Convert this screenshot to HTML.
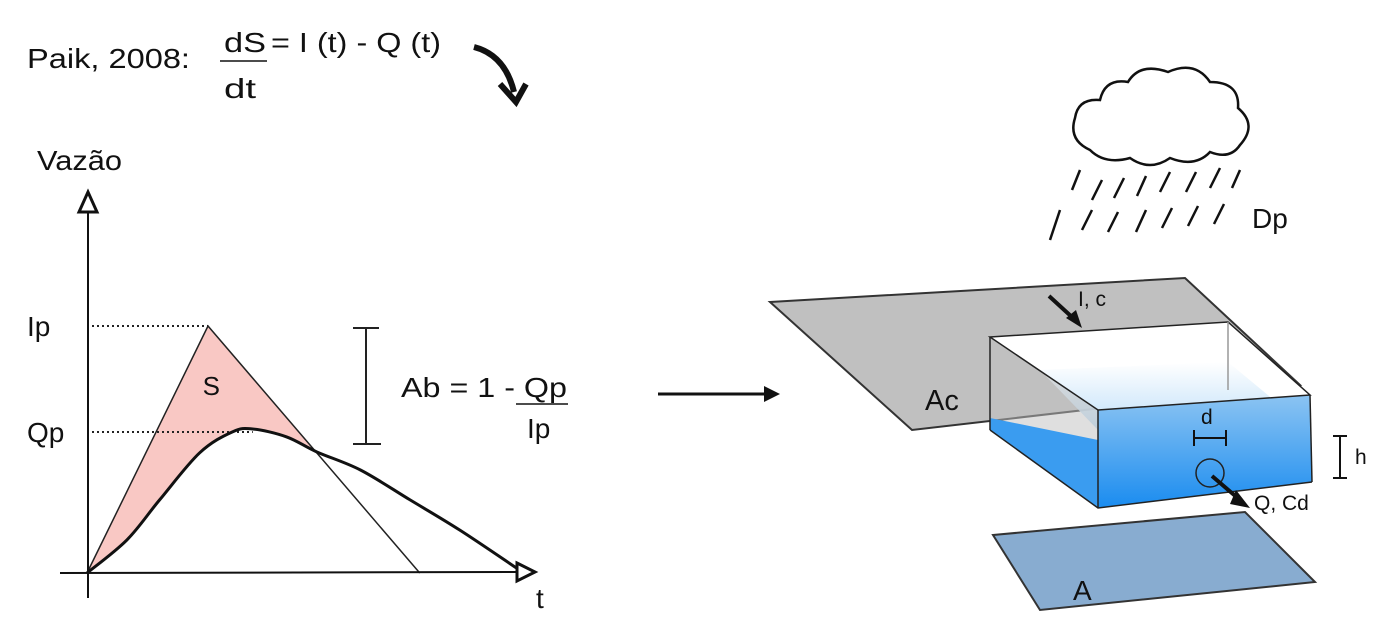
<!DOCTYPE html>
<html><head><meta charset="utf-8"><style>
body{margin:0;background:#fff;width:1394px;height:637px;overflow:hidden;font-family:"Liberation Sans",sans-serif}
svg text{font-family:"Liberation Sans",sans-serif;fill:#111}
</style></head><body>
<svg width="1394" height="637" viewBox="0 0 1394 637">
<defs>
<linearGradient id="wf" x1="0" y1="0" x2="0" y2="1"><stop offset="0" stop-color="#8cc4f2"/><stop offset="1" stop-color="#1a8cf0"/></linearGradient>
<linearGradient id="ws" x1="0" y1="0" x2="0" y2="1"><stop offset="0" stop-color="#ffffff"/><stop offset="1" stop-color="#b8dcf8"/></linearGradient>
</defs>
<g>
<text x="27" y="68" font-size="28" textLength="163" lengthAdjust="spacingAndGlyphs">Paik, 2008:</text>
<text x="224" y="52" font-size="28" textLength="42" lengthAdjust="spacingAndGlyphs">dS</text>
<line x1="220" y1="61" x2="267" y2="61" stroke="#111" stroke-width="1.5"/>
<text x="224" y="98" font-size="28" textLength="32" lengthAdjust="spacingAndGlyphs">dt</text>
<text x="271" y="52" font-size="28" textLength="170" lengthAdjust="spacingAndGlyphs">= I (t) - Q (t)</text>
</g>
<path d="M474 47 Q505 55 514 92" fill="none" stroke="#111" stroke-width="6"/>
<path d="M500 84 L516 102 L526 84" fill="none" stroke="#111" stroke-width="6"/>
<g id="chart"></g>
<text x="37" y="170" font-size="28" textLength="85" lengthAdjust="spacingAndGlyphs">Vazão</text>
<text x="536" y="608" font-size="28">t</text>
<g stroke="#222" stroke-width="2">
<line x1="366" y1="328" x2="366" y2="444"/><line x1="353" y1="328" x2="379" y2="328"/><line x1="353" y1="444" x2="381" y2="444"/></g>
<g>
<text x="401" y="397" font-size="28" textLength="166" lengthAdjust="spacingAndGlyphs">Ab = 1 - Qp</text>
<line x1="516" y1="404" x2="568" y2="404" stroke="#111" stroke-width="1.5"/>
<text x="527" y="438" font-size="28">Ip</text></g>
<g><line x1="658" y1="394" x2="766" y2="394" stroke="#111" stroke-width="3"/><path d="M764 386 L780 394 L764 402Z" fill="#111"/></g>
<g fill="none" stroke="#111" stroke-width="2.5">
<path d="M1090 150 Q1068 140 1075 118 Q1078 98 1100 100 Q1105 78 1128 82 Q1140 62 1168 72 Q1195 60 1210 82 Q1240 82 1238 108 Q1258 125 1240 145 Q1230 160 1210 152 Q1195 168 1170 158 Q1150 172 1130 158 Q1105 165 1090 150Z"/>
<path d="M1080 170 L1072 190 M1102 180 L1092 200 M1124 178 L1114 198 M1146 176 L1137 196 M1170 172 L1160 192 M1196 172 L1186 192 M1220 168 L1210 188 M1240 170 L1232 188 M1060 210 L1050 240 M1092 210 L1082 230 M1118 212 L1108 232 M1146 210 L1136 232 M1172 208 L1162 228 M1198 206 L1188 226 M1224 204 L1214 224"/></g>
<text x="1252" y="228" font-size="28">Dp</text>
<polygon points="770,302 1185,278 1300,385 912,430" fill="#c0c0c0" stroke="#333" stroke-width="2"/>
<text x="925" y="410" font-size="29">Ac</text>
<g>
<polygon points="990,337 1228,322 1310,395 1098,410" fill="#fff"/>
<polygon points="1040,370 1228,362 1310,430 1098,430" fill="url(#ws)" opacity="0.9"/>
<polygon points="990,337 1098,410 1098,508 990,430" fill="#c0c0c0" opacity="0.5"/>
<polygon points="990,418 1098,440 1098,508 990,430" fill="#3a9cf0"/>
<polygon points="1098,410 1310,395 1312,482 1098,508" fill="url(#wf)"/>
<g fill="none" stroke="#222" stroke-width="1.5">
<polygon points="990,337 1228,322 1310,395 1098,410"/>
<line x1="990" y1="337" x2="990" y2="430"/><line x1="1098" y1="410" x2="1098" y2="508"/><line x1="1310" y1="395" x2="1312" y2="482"/>
<polyline points="990,430 1098,508 1312,482"/><line x1="1228" y1="322" x2="1228" y2="390" stroke="#999"/>
<circle cx="1210" cy="473" r="14"/></g>
<line x1="1193" y1="438" x2="1227" y2="438" stroke="#111" stroke-width="2"/><line x1="1194" y1="430" x2="1194" y2="446" stroke="#111" stroke-width="2"/><line x1="1226" y1="430" x2="1226" y2="446" stroke="#111" stroke-width="2"/>
<text x="1201" y="424" font-size="21">d</text>
<line x1="1212" y1="476" x2="1240" y2="500" stroke="#111" stroke-width="4"/><path d="M1236 490 L1250 508 L1230 504Z" fill="#111"/>
<text x="1254" y="510" font-size="21">Q, Cd</text>
<line x1="1049" y1="296" x2="1073" y2="318" stroke="#111" stroke-width="4"/><path d="M1066 318 L1082 328 L1076 310Z" fill="#111"/>
<text x="1078" y="306" font-size="21">I, c</text>
<g stroke="#111" stroke-width="2"><line x1="1340" y1="436" x2="1340" y2="478"/><line x1="1333" y1="436" x2="1347" y2="436"/><line x1="1333" y1="478" x2="1347" y2="478"/></g>
<text x="1355" y="464" font-size="21">h</text>
</g>
<polygon points="993,535 1245,512 1315,582 1040,610" fill="#88acd0" stroke="#333" stroke-width="2"/>
<text x="1073" y="600" font-size="28">A</text>
</svg>
<script>
const inflowT=[0,1,2.75];
const inflowQ=[0,1,0];
const outflowT=[0,0.33,0.6,0.93,1.2,1.37,1.65,1.9,2.26,2.67,3.08,3.55];
const outflowQ=[0,0.134,0.296,0.486,0.571,0.583,0.551,0.490,0.417,0.296,0.174,0.02];
const yLabels=["Ip","Qp"];
const yLabelVals=[1,0.571];
const X=t=>87+t*121;
const Y=q=>573-q*247;
const NS="http://www.w3.org/2000/svg";
const g=document.getElementById('chart');
function mk(tag,attrs){const e=document.createElementNS(NS,tag);for(const k in attrs)e.setAttribute(k,attrs[k]);g.appendChild(e);return e;}
function smooth(p){let d='M'+p[0][0]+' '+p[0][1];for(let i=0;i<p.length-1;i++){const p0=p[i-1]||p[i],p1=p[i],p2=p[i+1],p3=p[i+2]||p2;
d+=' C'+(p1[0]+(p2[0]-p0[0])/6)+' '+(p1[1]+(p2[1]-p0[1])/6)+' '+(p2[0]-(p3[0]-p1[0])/6)+' '+(p2[1]-(p3[1]-p1[1])/6)+' '+p2[0]+' '+p2[1];}return d;}
const opts=outflowT.map((t,i)=>[X(t),Y(outflowQ[i])]);
let ix=1.9;
let sp=opts.filter((p,i)=>outflowT[i]<=ix);
const sd=smooth(sp)+' L'+X(ix)+' '+Y(1-(ix-1)/1.75)+' L'+X(1)+' '+Y(1)+' Z';
const s=mk('path',{d:sd,fill:'#f9c8c4'});


const sl=mk('text',{x:X(0.98)-3,y:Y(0.72),'font-size':26});sl.textContent='S';


yLabelVals.forEach((v,i)=>{
 const xe=i==0?X(1):X(outflowT[outflowQ.indexOf(Math.max(...outflowQ))]);
 const d=mk('line',{x1:X(0),y1:Y(v),x2:xe,y2:Y(v),stroke:'#222','stroke-width':2,'stroke-dasharray':'2,3'});
 
 
 const t=mk('text',{x:27,y:Y(v)+10,'font-size':28});t.textContent=yLabels[i];
 
 
});
const inf=mk('polyline',{points:inflowT.map((t,i)=>X(t)+','+Y(inflowQ[i])).join(' '),fill:'none',stroke:'#222','stroke-width':1.5});


const out=mk('path',{d:smooth(opts),fill:'none',stroke:'#111','stroke-width':3,'stroke-linejoin':'round'});


const ya=mk('line',{x1:88,y1:210,x2:88,y2:598,stroke:'#111','stroke-width':2});


const yt=mk('polygon',{points:'88,192 79,212 97,212',fill:'#fff',stroke:'#111','stroke-width':3});


const xa=mk('line',{x1:60,y1:573,x2:517,y2:572,stroke:'#111','stroke-width':2});


const xt=mk('polygon',{points:'517,563 535,572 517,581',fill:'#fff',stroke:'#111','stroke-width':3});


</script>
</body></html>
